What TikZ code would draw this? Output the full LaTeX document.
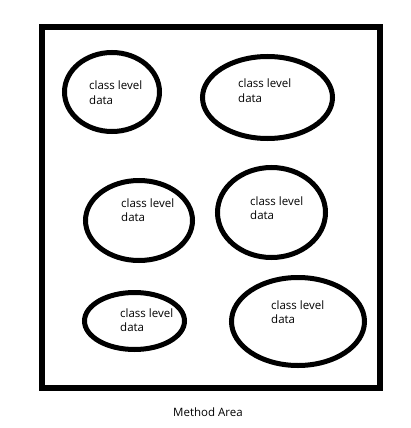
\documentclass[tikz,border=0pt]{standalone}
\usepackage{fontspec}
\setmainfont{Open Sans}
\usetikzlibrary{shapes.geometric}
\begin{document}
\begin{tikzpicture}[x=1pt,y=-1pt,
  blob/.style={draw=black,line width=5pt,ellipse,inner sep=0pt},
  lbl/.style={anchor=base west,align=left,inner sep=0pt,font=\fontsize{11.5}{14.5}\selectfont},
  frame/.style={draw=black,line width=5.5pt}]
\useasboundingbox (0,0) rectangle (410,428);
\draw[frame] (42,27) rectangle (380,388);
\node[blob,minimum width=95pt,minimum height=79pt] (e1) at (112,92) {};
\node[blob,minimum width=130pt,minimum height=82pt] (e2) at (267.5,97.5) {};
\node[blob,minimum width=107pt,minimum height=80pt] (e3) at (139,220.5) {};
\node[blob,minimum width=108pt,minimum height=90pt] (e4) at (271.5,212.5) {};
\node[blob,minimum width=100pt,minimum height=57pt] (e5) at (134.5,321) {};
\node[blob,minimum width=133pt,minimum height=88pt] (e6) at (298,321.5) {};
\node[lbl] (t1) at (89,104) {class level\\data};
\node[lbl] (t2) at (238,102) {class level\\data};
\node[lbl] (t3) at (121,221.5) {class level\\data};
\node[lbl] (t4) at (250,219.5) {class level\\data};
\node[lbl] (t5) at (120,331.5) {class level\\data};
\node[lbl] (t6) at (271,323.5) {class level\\data};
\node[lbl] (cap) at (173,416) {Method Area};
\end{tikzpicture}
\end{document}
